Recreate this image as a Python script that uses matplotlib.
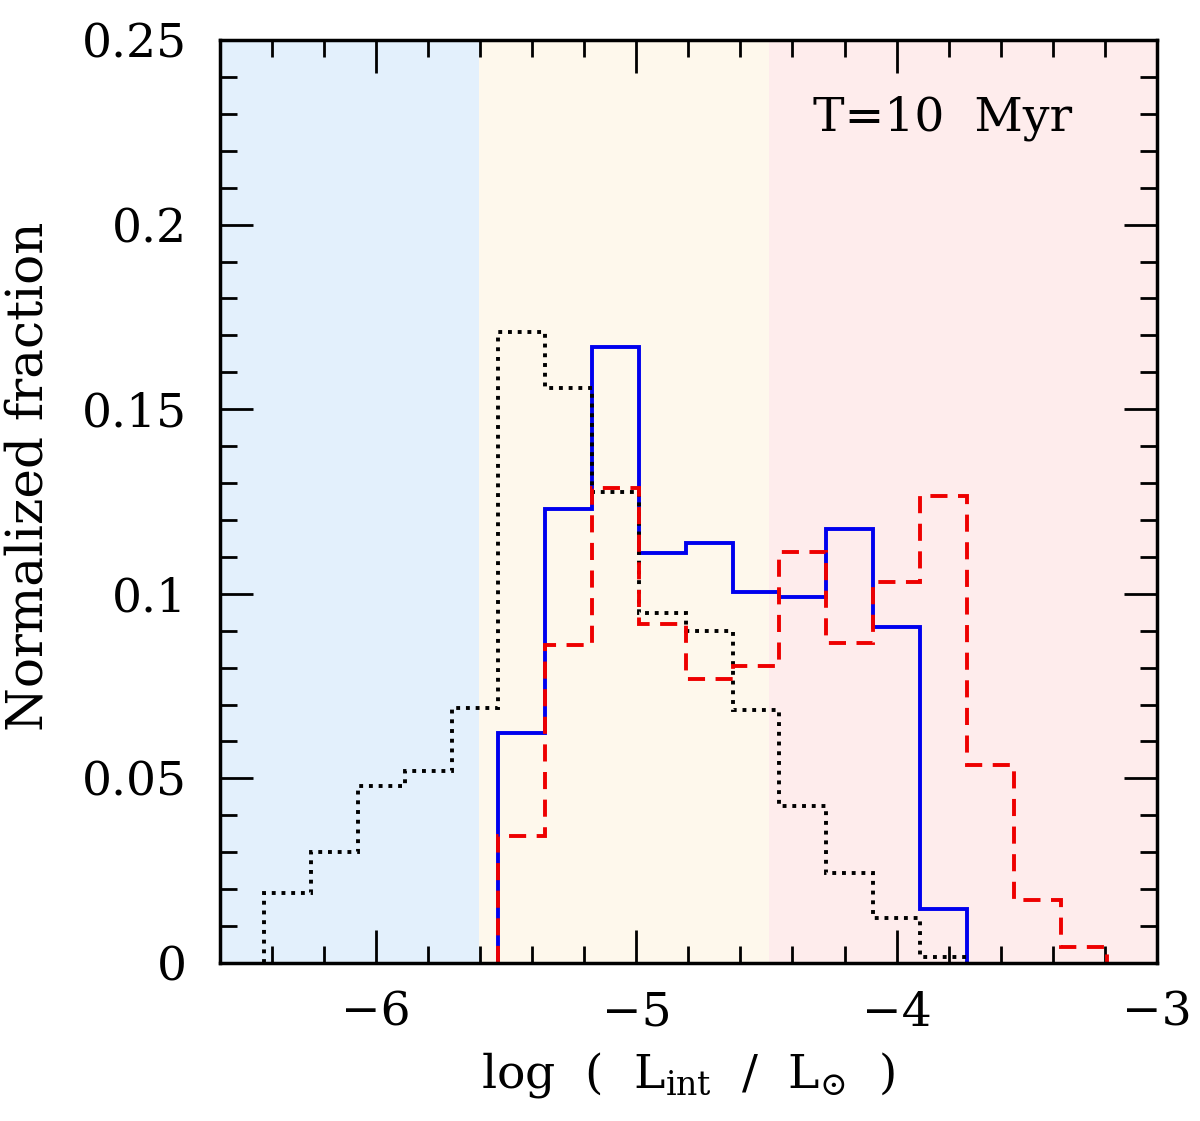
import numpy as np
import matplotlib
matplotlib.use("Agg")
import matplotlib.pyplot as plt
from matplotlib.ticker import MultipleLocator

plt.rcParams['font.family'] = ['DejaVu Serif']
plt.rcParams['mathtext.fontset'] = 'dejavuserif'

# bordes de los bins (ancho 0.18 dex)
edges = np.round(-6.43 + 0.18 * np.arange(19), 2)

# curva negra punteada (desde -6.43)
black_vals = [0.019, 0.030, 0.048, 0.052, 0.069, 0.171, 0.1557, 0.1275,
              0.0947, 0.090, 0.0685, 0.0425, 0.0243, 0.0121, 0.0015]
# curva azul continua (desde -5.53)
blue_vals = [0.0622, 0.123, 0.1668, 0.111, 0.1137, 0.1004, 0.099,
             0.1176, 0.091, 0.0146]
# curva roja discontinua (desde -5.53)
red_vals = [0.0343, 0.086, 0.1286, 0.0918, 0.0768, 0.0804, 0.1113,
            0.0866, 0.1031, 0.1264, 0.0536, 0.017, 0.0043]

# regiones sombreadas
regions = [(-6.6, -5.605, '#e3f0fc'), (-5.605, -4.49, '#fef8ec'), (-4.49, -3.0, '#feecec')]

fig = plt.figure(figsize=(12, 11.21), dpi=100)
ax = fig.add_axes([0.1833, 0.141, 0.7807, 0.8233])

for x0, x1, c in regions:
    ax.axvspan(x0, x1, color=c, lw=0, zorder=0)

ax.stairs(blue_vals, edges[5:5 + len(blue_vals) + 1], color='#0000ee', lw=2.8, zorder=3)
ax.stairs(black_vals, edges[:len(black_vals) + 1], color='black', lw=2.8,
          linestyle=(0, (1, 1.5)), zorder=4)
ax.stairs(red_vals, edges[5:5 + len(red_vals) + 1], color='#ee0000', lw=2.8,
          linestyle=(0, (4.4, 2.7)), zorder=5)

ax.set_xlim(-6.6, -3.0)
ax.set_ylim(0, 0.25)
ax.xaxis.set_minor_locator(MultipleLocator(0.2))
ax.yaxis.set_minor_locator(MultipleLocator(0.01))
ax.set_xticks([-6, -5, -4, -3])
ax.set_xticklabels(['\u22126', '\u22125', '\u22124', '\u22123'])
ax.set_yticks([0, 0.05, 0.1, 0.15, 0.2, 0.25])
ax.set_yticklabels(['0', '0.05', '0.1', '0.15', '0.2', '0.25'])

ax.tick_params(which='both', direction='in', top=True, right=True, width=2)
ax.tick_params(which='major', length=24, labelsize=34)
ax.tick_params(which='major', axis='y', pad=24)
ax.tick_params(which='major', axis='x', pad=20)
ax.tick_params(which='minor', length=12)
for s in ax.spines.values():
    s.set_linewidth(2.5)
    s.set_zorder(6)

ax.set_xlabel(r'log  (  L$_{\rm int}$  /  L$_{\odot}$  )', fontsize=34, labelpad=10)
ax.set_ylabel('Normalized fraction', fontsize=36)
ax.yaxis.set_label_coords(-0.178, 0.527)

ax.text(0.91, 0.902, 'T=10  Myr', transform=ax.transAxes, ha='right', va='baseline',
        fontsize=34)

plt.savefig('out.png', dpi=100)
